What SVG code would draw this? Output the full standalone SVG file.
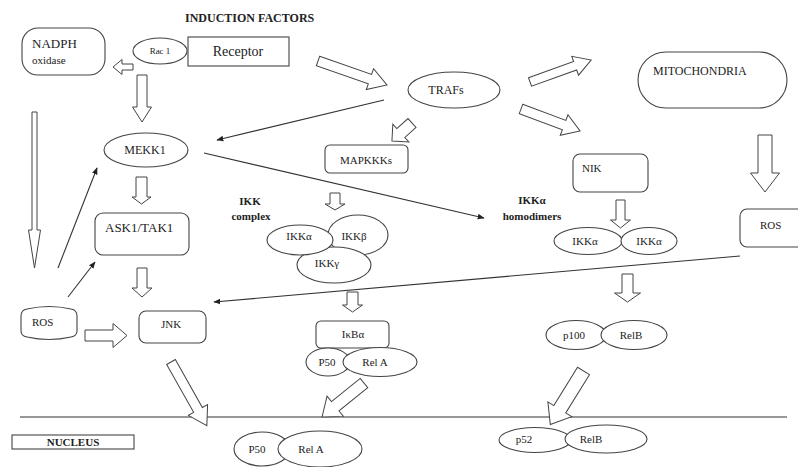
<svg xmlns="http://www.w3.org/2000/svg" width="798" height="467" viewBox="0 0 798 467">
<defs>
<style>
.n{fill:#fff;stroke:#444;stroke-width:1.1}
text{font-family:'Liberation Serif','DejaVu Serif',serif;fill:#222}
.b{font-weight:bold}
.ba{fill:#fff;stroke:#444;stroke-width:1}
.ln{stroke:#333;stroke-width:1.1;fill:none}
</style>
<marker id="ah" viewBox="0 0 10 10" refX="9" refY="5" markerWidth="7" markerHeight="7" orient="auto" markerUnits="userSpaceOnUse">
<path d="M0,1 L10,5 L0,9 Z" fill="#222"/>
</marker>
</defs>
<rect width="798" height="467" fill="#fff"/>

<text class="b" x="185" y="22" font-size="12">INDUCTION FACTORS</text>

<g id="connectors">
<line class="ln" x1="20" y1="417" x2="787" y2="417"/>
<line class="ln" x1="384" y1="100" x2="217" y2="140" marker-end="url(#ah)"/>
<line class="ln" x1="204" y1="153" x2="484" y2="218" marker-end="url(#ah)"/>
<line class="ln" x1="58" y1="268" x2="97" y2="168" marker-end="url(#ah)"/>
<line class="ln" x1="68" y1="297" x2="95" y2="262" marker-end="url(#ah)"/>
<line class="ln" x1="740" y1="256" x2="214" y2="302" marker-end="url(#ah)"/>
<polygon class="ba" transform="translate(133,67) rotate(180)" points="0,-3 11,-3 11,-7.5 20,0 11,7.5 11,3 0,3"/>
<polygon class="ba" transform="translate(142,75) rotate(90)" points="0,-5 32,-5 32,-9.5 47,0 32,9.5 32,5 0,5"/>
<polygon class="ba" transform="translate(34.5,112) rotate(90)" points="0,-2.5 118,-2.5 118,-6 156,0 118,6 118,2.5 0,2.5"/>
<polygon class="ba" transform="translate(141.5,177) rotate(90)" points="0,-5.5 20,-5.5 20,-9.5 27,0 20,9.5 20,5.5 0,5.5"/>
<polygon class="ba" transform="translate(142,268) rotate(90)" points="0,-5 20,-5 20,-10 29,0 20,10 20,5 0,5"/>
<polygon class="ba" transform="translate(85,335.5)" points="0,-5.5 28,-5.5 28,-12 42,0 28,12 28,5.5 0,5.5"/>
<polygon class="ba" transform="translate(171,362) rotate(60.6)" points="0,-5 55,-5 55,-11 73,0 55,11 55,5 0,5"/>
<polygon class="ba" transform="translate(364,383) rotate(141)" points="0,-6 37,-6 37,-13 54,0 37,13 37,6 0,6"/>
<polygon class="ba" transform="translate(583.5,371) rotate(121.8)" points="0,-7 45,-7 45,-14 63,0 45,14 45,7 0,7"/>
<polygon class="ba" transform="translate(318,61) rotate(19.2)" points="0,-5 55,-5 55,-11 73,0 55,11 55,5 0,5"/>
<polygon class="ba" transform="translate(530,82) rotate(-19.8)" points="0,-4.5 48,-4.5 48,-10 65,0 48,10 48,4.5 0,4.5"/>
<polygon class="ba" transform="translate(521,109) rotate(20.4)" points="0,-5 46,-5 46,-11 63,0 46,11 46,5 0,5"/>
<polygon class="ba" transform="translate(412,123) rotate(138)" points="0,-6 15,-6 15,-12 27,0 15,12 15,6 0,6"/>
<polygon class="ba" transform="translate(335,193) rotate(90)" points="0,-5 11,-5 11,-10 17,0 11,10 11,5 0,5"/>
<polygon class="ba" transform="translate(352.5,292) rotate(90)" points="0,-5.5 13,-5.5 13,-10 20,0 13,10 13,5.5 0,5.5"/>
<polygon class="ba" transform="translate(620.5,200) rotate(90)" points="0,-4.5 20,-4.5 20,-10 28,0 20,10 20,4.5 0,4.5"/>
<polygon class="ba" transform="translate(627.5,274) rotate(90)" points="0,-5.5 19,-5.5 19,-13 28,0 19,13 19,5.5 0,5.5"/>
<polygon class="ba" transform="translate(765,135) rotate(90)" points="0,-7 38,-7 38,-14.5 57,0 38,14.5 38,7 0,7"/>
</g>

<g id="nadph">
<rect class="n" x="22" y="28" width="83" height="47" rx="16"/>
<text x="32" y="48" font-size="13">NADPH</text>
<text x="32" y="64" font-size="11">oxidase</text>
</g>
<g id="rac1">
<ellipse class="n" cx="160" cy="51" rx="27" ry="13"/>
<text x="160" y="54" font-size="9" text-anchor="middle">Rac 1</text>
</g>
<g id="receptor">
<rect class="n" x="188" y="37" width="101" height="29"/>
<text x="238" y="56" font-size="14" text-anchor="middle">Receptor</text>
</g>
<g id="mekk1">
<ellipse class="n" cx="146" cy="150" rx="42" ry="17"/>
<text x="145" y="154" font-size="12" text-anchor="middle">MEKK1</text>
</g>
<g id="ask1">
<rect class="n" x="95" y="213" width="94" height="42" rx="8"/>
<text x="105" y="232" font-size="13">ASK1/TAK1</text>
</g>
<g id="ros-left">
<path class="n" d="M27,309 Q49,304 71,309 Q77,310 77,316 L77,331 Q77,336 71,337 Q49,342 27,337 Q21,336 21,331 L21,316 Q21,310 27,309 Z"/>
<text x="32" y="326" font-size="11">ROS</text>
</g>
<g id="jnk">
<rect class="n" x="139" y="311" width="67" height="32" rx="7"/>
<text x="171" y="328" font-size="11" text-anchor="middle">JNK</text>
</g>
<g id="trafs">
<ellipse class="n" cx="454" cy="90" rx="46" ry="18"/>
<text x="446" y="94" font-size="12" text-anchor="middle">TRAFs</text>
</g>
<g id="mapkkks">
<rect class="n" x="325" y="145" width="83" height="28" rx="5"/>
<text x="366" y="164" font-size="11" text-anchor="middle">MAPKKKs</text>
</g>
<g id="ikk-complex">
<text class="b" x="250" y="205" font-size="11" text-anchor="middle">IKK</text>
<text class="b" x="251" y="220" font-size="11" text-anchor="middle">complex</text>
<ellipse class="n" cx="358" cy="235" rx="30" ry="20"/>
<ellipse class="n" cx="334" cy="265" rx="37" ry="18"/>
<ellipse class="n" cx="300" cy="240" rx="33" ry="15"/>
<text x="299" y="240" font-size="11" text-anchor="middle">IKKα</text>
<text x="354" y="240" font-size="11" text-anchor="middle">IKKβ</text>
<text x="327" y="267" font-size="11" text-anchor="middle">IKKγ</text>
</g>
<g id="ikba">
<rect class="n" x="316" y="321" width="73" height="27" rx="5"/>
<text x="353" y="338" font-size="11" text-anchor="middle">IκBα</text>
</g>
<g id="p50-rela">
<ellipse class="n" cx="328" cy="362" rx="22" ry="14"/>
<ellipse class="n" cx="380" cy="362" rx="37" ry="14.5"/>
<text x="327" y="366" font-size="11" text-anchor="middle">P50</text>
<text x="375" y="366" font-size="11" text-anchor="middle">Rel A</text>
</g>
<g id="mitochondria">
<rect class="n" x="638" y="52" width="149" height="56" rx="28"/>
<text x="653" y="75" font-size="12">MITOCHONDRIA</text>
</g>
<g id="nik">
<rect class="n" x="573" y="154" width="75" height="38" rx="7"/>
<text x="582" y="172" font-size="11">NIK</text>
</g>
<g id="ikka-homodimers">
<text class="b" x="532" y="204" font-size="11" text-anchor="middle">IKKα</text>
<text class="b" x="532" y="220" font-size="11" text-anchor="middle">homodimers</text>
<ellipse class="n" cx="588" cy="241" rx="34" ry="13.5"/>
<ellipse class="n" cx="649" cy="241" rx="28" ry="13.5"/>
<text x="585" y="245" font-size="11" text-anchor="middle">IKKα</text>
<text x="649" y="245" font-size="11" text-anchor="middle">IKKα</text>
</g>
<g id="ros-right">
<rect class="n" x="740" y="209" width="72" height="38" rx="7"/>
<text x="760" y="229" font-size="11">ROS</text>
</g>
<g id="p100-relb">
<ellipse class="n" cx="576" cy="335" rx="30" ry="14.5"/>
<ellipse class="n" cx="634" cy="335" rx="33" ry="14.5"/>
<text x="574" y="339" font-size="11" text-anchor="middle">p100</text>
<text x="631" y="339" font-size="11" text-anchor="middle">RelB</text>
</g>
<g id="nucleus">
<rect class="n" x="12" y="435" width="122" height="14"/>
<text class="b" x="73" y="446" font-size="11" text-anchor="middle">NUCLEUS</text>
</g>
<g id="p50-rela-nuc">
<ellipse class="n" cx="262" cy="449" rx="28" ry="17"/>
<ellipse class="n" cx="320" cy="449" rx="42" ry="18"/>
<text x="257" y="453" font-size="11" text-anchor="middle">P50</text>
<text x="311" y="453" font-size="11" text-anchor="middle">Rel A</text>
</g>
<g id="p52-relb">
<ellipse class="n" cx="535" cy="440" rx="36" ry="12.5"/>
<ellipse class="n" cx="606" cy="439" rx="41" ry="14"/>
<text x="524" y="443" font-size="11" text-anchor="middle">p52</text>
<text x="591" y="443" font-size="11" text-anchor="middle">RelB</text>
</g>
</svg>
